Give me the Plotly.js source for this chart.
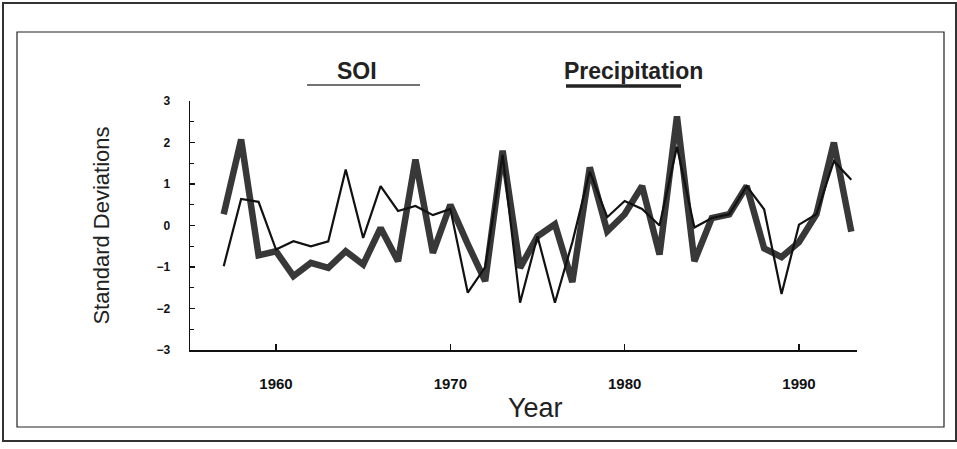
<!DOCTYPE html>
<html>
<head>
<meta charset="utf-8">
<script src="https://cdn.plot.ly/plotly-3.0.1.min.js"></script>
<style>
  html, body { margin: 0; padding: 0; background: #fff; }
  #chart { width: 957px; height: 449px; }
</style>
</head>
<body>
<div id="chart"></div>
<script>
// ---- data ----
const years = [1957,1958,1959,1960,1961,1962,1963,1964,1965,1966,1967,1968,1969,1970,1971,1972,1973,1974,1975,1976,1977,1978,1979,1980,1981,1982,1983,1984,1985,1986,1987,1988,1989,1990,1991,1992,1993];
const soi = [-0.98,0.64,0.57,-0.58,-0.38,-0.50,-0.38,1.35,-0.30,0.95,0.35,0.47,0.25,0.40,-1.62,-1.00,1.70,-1.86,-0.26,-1.86,-0.40,1.30,0.20,0.59,0.40,0.00,1.90,-0.05,0.18,0.27,0.95,0.39,-1.65,0.02,0.27,1.55,1.10];
const precipitation = [0.27,2.07,-0.72,-0.62,-1.22,-0.90,-1.02,-0.62,-0.94,-0.06,-0.86,1.59,-0.66,0.50,-0.45,-1.34,1.80,-1.02,-0.26,0.03,-1.36,1.40,-0.14,0.27,0.95,-0.70,2.63,-0.86,0.18,0.27,0.95,-0.55,-0.76,-0.40,0.27,2.00,-0.15];
const yearTicks = [1960,1970,1980,1990];
const seriesNames = ["SOI","Precipitation"];

// ---- layout helpers (pixel -> paper) ----
const L = 190, R = 857, T = 101, B = 350;
const px = X => (X - L) / (R - L);
const py = Y => (B - Y) / (B - T);
const FONT = "Liberation Sans, Arial, sans-serif";

const traces = [
  { x: years, y: precipitation, name: seriesNames[1], type: "scatter", mode: "lines",
    line: { color: "#383838", width: 6.5 }, showlegend: false },
  { x: years, y: soi, name: seriesNames[0], type: "scatter", mode: "lines",
    line: { color: "#111", width: 2.2 }, showlegend: false }
];

const layout = {
  width: 957, height: 449,
  margin: { l: L, r: 957 - R, t: T, b: 449 - B, pad: 0 },
  paper_bgcolor: "#fff", plot_bgcolor: "#fff",
  showlegend: false,
  xaxis: {
    range: [1960 + (L - 276) / 17.433, 1960 + (R - 276) / 17.433],
    tickvals: yearTicks, ticktext: yearTicks.map(String),
    ticks: "inside", ticklen: 6, tickwidth: 1.2, tickcolor: "#111",
    showline: true, linecolor: "#111", linewidth: 1.5,
    showgrid: false, zeroline: false,
    ticklabelstandoff: 19,
    tickfont: { family: FONT, size: 15, weight: "bold", color: "#111" },
    title: { text: "" }
  },
  yaxis: {
    range: [-3, 3], dtick: 1,
    ticks: "inside", ticklen: 5, tickwidth: 1.2, tickcolor: "#111",
    minor: { dtick: 0.5, ticks: "inside", ticklen: 4, tickcolor: "#111" },
    showline: true, linecolor: "#111", linewidth: 1.5,
    showgrid: false, zeroline: false,
    ticklabelstandoff: 16,
    tickfont: { family: FONT, size: 12, weight: "bold", color: "#111" },
    title: { text: "Standard Deviations", standoff: 40,
             font: { family: FONT, size: 22, color: "#222" } }
  },
  shapes: [
    { type: "rect", xref: "paper", yref: "paper", x0: px(3), x1: px(956), y0: py(441), y1: py(3),
      line: { color: "#333", width: 2 }, fillcolor: "rgba(0,0,0,0)", layer: "below" },
    { type: "rect", xref: "paper", yref: "paper", x0: px(17), x1: px(944), y0: py(427), y1: py(32),
      line: { color: "#222", width: 1.2 }, fillcolor: "rgba(0,0,0,0)", layer: "below" },
    { type: "line", xref: "paper", yref: "paper", x0: px(307), x1: px(420), y0: py(85), y1: py(85),
      line: { color: "#444", width: 1.5 } },
    { type: "line", xref: "paper", yref: "paper", x0: px(566), x1: px(681), y0: py(86), y1: py(86),
      line: { color: "#222", width: 3.5 } }
  ],
  annotations: [
    { text: seriesNames[0], xref: "paper", yref: "paper", x: px(357), y: py(71),
      xanchor: "center", yanchor: "middle", showarrow: false,
      font: { family: FONT, size: 23, weight: "bold", color: "#222" } },
    { text: seriesNames[1], xref: "paper", yref: "paper", x: px(633), y: py(71),
      xanchor: "center", yanchor: "middle", showarrow: false,
      font: { family: FONT, size: 23, weight: "bold", color: "#222" } },
    { text: "Year", xref: "paper", yref: "paper", x: px(535), y: py(408),
      xanchor: "center", yanchor: "middle", showarrow: false,
      font: { family: FONT, size: 27, color: "#222" } }
  ]
};

Plotly.newPlot("chart", traces, layout, { staticPlot: true, displayModeBar: false });
</script>
</body>
</html>
